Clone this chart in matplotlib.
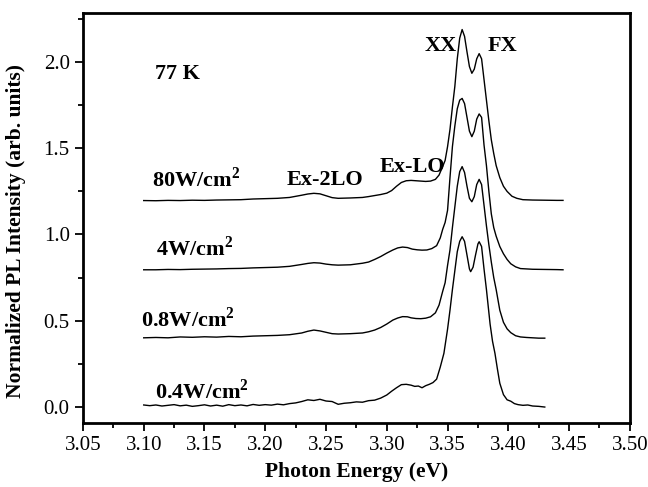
import numpy as np
import matplotlib
matplotlib.use("Agg")
import matplotlib.pyplot as plt
from matplotlib.ticker import MultipleLocator, FormatStrFormatter

plt.rcParams['font.family'] = 'Liberation Serif'
plt.rcParams['mathtext.fontset'] = 'custom'
plt.rcParams['mathtext.rm'] = 'Liberation Serif'
plt.rcParams['mathtext.bf'] = 'Liberation Serif:bold'

# PL spectra (energy in eV, normalized intensity incl. offset)
e_04 = [3.100, 3.105, 3.110, 3.115, 3.120, 3.125, 3.130, 3.135, 3.140, 3.145,
        3.150, 3.155, 3.160, 3.165, 3.170, 3.175, 3.180, 3.185, 3.190, 3.195,
        3.200, 3.205, 3.210, 3.215, 3.220, 3.225, 3.230, 3.235, 3.240, 3.245,
        3.250, 3.255, 3.260, 3.265, 3.270, 3.275, 3.280, 3.285, 3.290, 3.295,
        3.300, 3.304, 3.308, 3.312, 3.316, 3.320, 3.323, 3.326, 3.329, 3.332,
        3.335, 3.338, 3.341, 3.344, 3.347, 3.350, 3.352, 3.354, 3.356, 3.358,
        3.360, 3.362, 3.364, 3.366, 3.368, 3.369, 3.371, 3.373, 3.375, 3.376,
        3.378, 3.380, 3.382, 3.385, 3.387, 3.389, 3.391, 3.393, 3.396, 3.399,
        3.402, 3.405, 3.408, 3.412, 3.416, 3.420, 3.425, 3.430]
i_04 = [0.010, 0.006, 0.010, 0.004, 0.008, 0.012, 0.005, 0.009, 0.002, 0.006,
        0.011, 0.004, 0.009, 0.003, 0.012, 0.006, 0.010, 0.005, 0.013, 0.008,
        0.012, 0.009, 0.015, 0.011, 0.018, 0.022, 0.030, 0.040, 0.036, 0.043,
        0.033, 0.030, 0.014, 0.020, 0.023, 0.028, 0.026, 0.035, 0.038, 0.050,
        0.068, 0.090, 0.110, 0.128, 0.130, 0.125, 0.118, 0.120, 0.110, 0.122,
        0.130, 0.140, 0.160, 0.230, 0.310, 0.450, 0.560, 0.680, 0.790, 0.900,
        0.960, 0.987, 0.960, 0.880, 0.800, 0.784, 0.810, 0.880, 0.945, 0.958,
        0.930, 0.800, 0.680, 0.480, 0.380, 0.310, 0.220, 0.136, 0.070, 0.040,
        0.032, 0.018, 0.012, 0.008, 0.010, 0.004, 0.002, -0.002]

e_08 = [3.100, 3.110, 3.120, 3.130, 3.140, 3.150, 3.160, 3.170, 3.180, 3.190,
        3.200, 3.210, 3.220, 3.230, 3.235, 3.240, 3.245, 3.250, 3.255, 3.260,
        3.265, 3.270, 3.275, 3.280, 3.285, 3.290, 3.295, 3.300, 3.305, 3.309,
        3.313, 3.317, 3.320, 3.324, 3.328, 3.332, 3.336, 3.340, 3.343, 3.346,
        3.348, 3.350, 3.352, 3.354, 3.356, 3.358, 3.360, 3.362, 3.364, 3.366,
        3.368, 3.370, 3.372, 3.374, 3.376, 3.378, 3.380, 3.382, 3.384, 3.386,
        3.388, 3.390, 3.393, 3.396, 3.399, 3.402, 3.406, 3.410, 3.415, 3.420,
        3.425, 3.430]
i_08 = [0.400, 0.402, 0.400, 0.405, 0.403, 0.406, 0.404, 0.408, 0.406, 0.410,
        0.412, 0.414, 0.418, 0.428, 0.438, 0.445, 0.440, 0.432, 0.424, 0.422,
        0.423, 0.424, 0.426, 0.428, 0.435, 0.445, 0.460, 0.480, 0.503, 0.515,
        0.523, 0.522, 0.516, 0.512, 0.511, 0.514, 0.522, 0.545, 0.590, 0.670,
        0.720, 0.820, 0.910, 1.040, 1.160, 1.280, 1.365, 1.394, 1.360, 1.280,
        1.210, 1.190, 1.220, 1.290, 1.320, 1.290, 1.170, 1.050, 0.940, 0.840,
        0.750, 0.680, 0.560, 0.490, 0.452, 0.430, 0.412, 0.405, 0.402, 0.400,
        0.398, 0.398]

e_4 = [3.100, 3.110, 3.120, 3.130, 3.140, 3.150, 3.160, 3.170, 3.180, 3.190,
       3.200, 3.210, 3.220, 3.230, 3.235, 3.240, 3.245, 3.250, 3.255, 3.260,
       3.270, 3.280, 3.285, 3.290, 3.295, 3.300, 3.305, 3.309, 3.313, 3.317,
       3.321, 3.325, 3.329, 3.333, 3.337, 3.341, 3.344, 3.346, 3.348, 3.350,
       3.352, 3.354, 3.356, 3.358, 3.360, 3.362, 3.364, 3.366, 3.368, 3.370,
       3.372, 3.374, 3.376, 3.378, 3.380, 3.382, 3.384, 3.386, 3.388, 3.390,
       3.393, 3.396, 3.399, 3.402, 3.406, 3.410, 3.415, 3.420, 3.430, 3.440,
       3.445]
i_4 = [0.795, 0.795, 0.797, 0.796, 0.798, 0.799, 0.800, 0.802, 0.803, 0.806,
       0.808, 0.810, 0.815, 0.826, 0.832, 0.836, 0.834, 0.828, 0.824, 0.822,
       0.824, 0.833, 0.840, 0.855, 0.872, 0.892, 0.910, 0.922, 0.927, 0.924,
       0.915, 0.911, 0.909, 0.910, 0.918, 0.935, 0.980, 1.030, 1.070, 1.140,
       1.330, 1.510, 1.630, 1.730, 1.780, 1.790, 1.760, 1.680, 1.600, 1.568,
       1.600, 1.670, 1.700, 1.680, 1.520, 1.400, 1.250, 1.120, 1.040, 0.990,
       0.930, 0.888, 0.855, 0.830, 0.812, 0.802, 0.800, 0.798, 0.797, 0.796,
       0.795]

e_80 = [3.100, 3.110, 3.120, 3.130, 3.140, 3.150, 3.160, 3.170, 3.180, 3.190,
        3.200, 3.210, 3.220, 3.230, 3.235, 3.240, 3.245, 3.250, 3.255, 3.260,
        3.270, 3.280, 3.285, 3.290, 3.295, 3.300, 3.304, 3.308, 3.312, 3.316,
        3.320, 3.324, 3.328, 3.332, 3.336, 3.340, 3.343, 3.346, 3.348, 3.350,
        3.352, 3.354, 3.356, 3.358, 3.360, 3.362, 3.364, 3.366, 3.368, 3.370,
        3.372, 3.374, 3.376, 3.378, 3.380, 3.382, 3.384, 3.386, 3.388, 3.390,
        3.393, 3.396, 3.399, 3.403, 3.407, 3.412, 3.420, 3.430, 3.440, 3.445]
i_80 = [1.197, 1.196, 1.198, 1.197, 1.199, 1.198, 1.200, 1.201, 1.202, 1.206,
        1.208, 1.210, 1.215, 1.228, 1.235, 1.239, 1.236, 1.225, 1.214, 1.210,
        1.212, 1.215, 1.220, 1.226, 1.232, 1.240, 1.255, 1.280, 1.302, 1.312,
        1.314, 1.312, 1.310, 1.308, 1.310, 1.320, 1.345, 1.395, 1.430, 1.510,
        1.610, 1.740, 1.860, 2.020, 2.140, 2.190, 2.150, 2.060, 1.975, 1.936,
        1.960, 2.020, 2.050, 2.020, 1.900, 1.780, 1.660, 1.550, 1.470, 1.400,
        1.330, 1.280, 1.250, 1.222, 1.210, 1.202, 1.200, 1.199, 1.198, 1.198]

fig = plt.figure(figsize=(6.48, 4.87), dpi=100)
ax = fig.add_axes([0.128, 0.132, 0.844, 0.842])

for e, i in [(e_04, i_04), (e_08, i_08), (e_4, i_4), (e_80, i_80)]:
    ax.plot(e, i, color='black', lw=1.0)

ax.set_xlim(3.05, 3.50)
ax.set_ylim(-0.093, 2.288)
ax.xaxis.set_major_locator(MultipleLocator(0.05))
ax.xaxis.set_minor_locator(MultipleLocator(0.025))
ax.yaxis.set_major_locator(MultipleLocator(0.5))
ax.yaxis.set_minor_locator(MultipleLocator(0.25))
ax.xaxis.set_major_formatter(FormatStrFormatter('%.2f'))
ax.yaxis.set_major_formatter(FormatStrFormatter('%.1f'))
ax.tick_params(which='both', direction='out', top=False, right=False,
               width=1.3, labelsize=15)
ax.tick_params(which='major', length=6)
ax.tick_params(which='minor', length=3.5)
for s in ax.spines.values():
    s.set_linewidth(2.0)

ax.set_xlabel('Photon Energy (eV)', fontsize=15.5, fontweight='bold', labelpad=5)
ax.set_ylabel('Normalized PL Intensity (arb. units)', fontsize=15.5,
              fontweight='bold')
ax.yaxis.set_label_coords(-0.104, 0.467)

tk = dict(fontsize=16, fontweight='bold', va='baseline')
ax.text(3.109, 1.90, '77 K', **tk)
ax.text(3.107, 1.278, r'80W/cm$^\mathbf{2}$', **tk)
ax.text(3.110, 0.875, r'4W/cm$^\mathbf{2}$', **tk)
ax.text(3.098, 0.465, r'0.8W/cm$^\mathbf{2}$', **tk)
ax.text(3.109, 0.043, r'0.4W/cm$^\mathbf{2}$', **tk)
ax.text(3.2175, 1.287, 'Ex-2LO', **tk)
ax.text(3.294, 1.365, 'Ex-LO', **tk)
ax.text(3.331, 2.067, 'XX', **tk)
ax.text(3.383, 2.067, 'FX', **tk)

fig.savefig('out.png', dpi=100)
